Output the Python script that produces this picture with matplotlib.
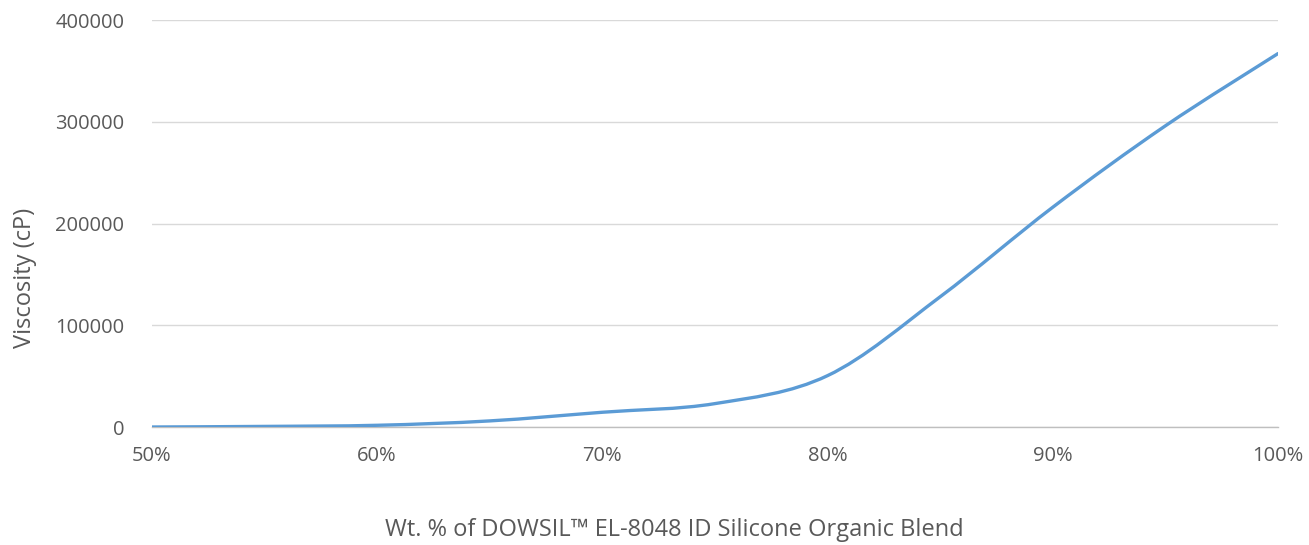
import matplotlib.pyplot as plt
from matplotlib.path import Path
from matplotlib.patches import PathPatch
from matplotlib.ticker import FuncFormatter

# wt. % of blend vs viscosity (cP)
wt_pct = [50, 55, 60, 65, 70, 75, 80, 85, 90, 95, 100]
viscosity = [0, 600, 1700, 6000, 14500, 23000, 50500, 128000, 216000, 296000, 367000]

x_ticks = [50, 60, 70, 80, 90, 100]
y_ticks = [0, 100000, 200000, 300000, 400000]

GRAY = "#595959"


def smooth_path(xs, ys):
    # Excel-style smoothed line: cubic bezier segments through the points
    pts = list(zip(xs, ys))
    n = len(pts)
    verts = [pts[0]]
    codes = [Path.MOVETO]
    for i in range(n - 1):
        p0 = pts[i - 1] if i > 0 else pts[i]
        p1 = pts[i]
        p2 = pts[i + 1]
        p3 = pts[i + 2] if i + 2 < n else pts[i + 1]
        c1 = (p1[0] + (p2[0] - p0[0]) / 6, p1[1] + (p2[1] - p0[1]) / 6)
        c2 = (p2[0] - (p3[0] - p1[0]) / 6, p2[1] - (p3[1] - p1[1]) / 6)
        verts += [c1, c2, p2]
        codes += [Path.CURVE4] * 3
    return Path(verts, codes)


def main():
    plt.rcParams["font.family"] = ["Open Sans", "DejaVu Sans"]

    fig = plt.figure(figsize=(13.09, 5.45), dpi=100)
    ax = fig.add_axes([0.1161, 0.2165, 0.8602, 0.7468])

    patch = PathPatch(smooth_path(wt_pct, viscosity), facecolor="none",
                      edgecolor="#5b9bd5", lw=2.4, capstyle="round", zorder=3)
    ax.add_patch(patch)

    ax.set_xlim(50, 100)
    ax.set_ylim(0, 400000)
    ax.set_xticks(x_ticks)
    ax.set_yticks(y_ticks)
    ax.xaxis.set_major_formatter(FuncFormatter(lambda v, p: f"{v:.0f}%"))
    ax.yaxis.set_major_formatter(FuncFormatter(lambda v, p: f"{v:.0f}"))

    ax.grid(axis="y", color="#d9d9d9", lw=1)
    ax.set_axisbelow(True)
    for s in ["top", "right", "left"]:
        ax.spines[s].set_visible(False)
    ax.spines["bottom"].set_color("#bfbfbf")
    ax.spines["bottom"].set_linewidth(1)

    ax.tick_params(axis="both", length=0, labelsize=14.5, labelcolor=GRAY)
    ax.tick_params(axis="x", pad=14)
    ax.tick_params(axis="y", pad=20)

    fig.text(0.515, 0.028, "Wt. % of DOWSIL\u2122 EL-8048 ID Silicone Organic Blend",
             ha="center", va="center", fontsize=17, color=GRAY)
    fig.text(0.019, 0.49, "Viscosity (cP)", rotation=90,
             ha="center", va="center", fontsize=17, color=GRAY)

    fig.savefig("out.png", dpi=100)


if __name__ == "__main__":
    main()
